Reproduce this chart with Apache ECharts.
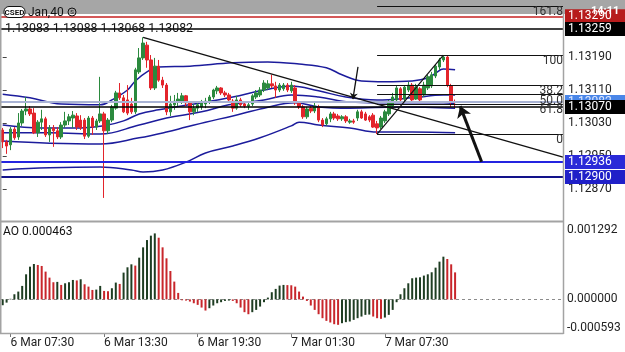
<!DOCTYPE html>
<html><head><meta charset="utf-8">
<script src="https://cdn.jsdelivr.net/npm/echarts@6/dist/echarts.min.js"></script>
<style>html,body{margin:0;padding:0;background:#fff}#c{width:625px;height:352px}</style>
</head><body><div id="c"></div>
<script>
// ---- candle data (EURUSD M15, 6 Mar 07:00 -> 7 Mar 12:00) ----
const opens = [1.13014,1.12985,1.12978,1.13016,1.12997,1.13031,1.13060,1.13065,1.13055,1.13007,
1.13033,1.13041,1.13002,1.13019,1.13012,1.12997,1.13026,1.13036,1.13043,1.13048,
1.13038,1.13038,1.12999,1.13043,1.13021,1.13036,1.13053,1.13012,1.13038,1.13067,
1.13104,1.13092,1.13087,1.13077,1.13058,1.13155,1.13189,1.13220,1.13184,1.13116,
1.13169,1.13135,1.13123,1.13058,1.13075,1.13082,1.13084,1.13097,1.13080,1.13058,
1.13067,1.13070,1.13077,1.13082,1.13094,1.13109,1.13116,1.13104,1.13099,1.13084,
1.13067,1.13087,1.13077,1.13072,1.13077,1.13094,1.13099,1.13111,1.13116,1.13126,
1.13121,1.13111,1.13114,1.13123,1.13109,1.13116,1.13080,1.13070,1.13046,1.13067,
1.13060,1.13070,1.13038,1.13029,1.13041,1.13053,1.13048,1.13041,1.13046,1.13033,
1.13036,1.13043,1.13058,1.13053,1.13046,1.13050,1.13029,1.13021,1.13036,1.13053,
1.13072,1.13087,1.13114,1.13089,1.13111,1.13123,1.13089,1.13114,1.13099,1.13116,
1.13121,1.13145,1.13167,1.13184,1.13191,1.13121,1.13083];
const closes = [1.12985,1.12975,1.13016,1.12995,1.13031,1.13060,1.13065,1.13053,1.13007,1.13033,
1.13041,1.13002,1.13019,1.13012,1.12997,1.13026,1.13036,1.13046,1.13050,1.13021,
1.13019,1.12999,1.13043,1.13021,1.13036,1.13053,1.13012,1.13038,1.13070,1.13104,
1.13092,1.13058,1.13055,1.13058,1.13160,1.13189,1.13225,1.13184,1.13116,1.13169,
1.13135,1.13123,1.13058,1.13077,1.13084,1.13089,1.13097,1.13080,1.13058,1.13067,
1.13075,1.13080,1.13084,1.13094,1.13111,1.13116,1.13104,1.13099,1.13087,1.13067,
1.13087,1.13075,1.13072,1.13075,1.13097,1.13104,1.13111,1.13128,1.13126,1.13121,
1.13111,1.13123,1.13123,1.13111,1.13123,1.13080,1.13070,1.13046,1.13065,1.13060,
1.13072,1.13038,1.13026,1.13041,1.13053,1.13043,1.13041,1.13046,1.13036,1.13036,
1.13033,1.13058,1.13043,1.13038,1.13038,1.13021,1.13019,1.13043,1.13058,1.13082,
1.13094,1.13116,1.13087,1.13118,1.13123,1.13087,1.13118,1.13087,1.13123,1.13143,
1.13148,1.13169,1.13184,1.13191,1.13123,1.13084,1.13082];
const highs = [1.13019,1.12990,1.13021,1.13021,1.13055,1.13065,1.13094,1.13072,1.13067,1.13038,
1.13063,1.13046,1.13026,1.13026,1.13021,1.13033,1.13058,1.13053,1.13060,1.13055,
1.13050,1.13043,1.13048,1.13048,1.13041,1.13143,1.13058,1.13043,1.13075,1.13109,
1.13128,1.13099,1.13123,1.13092,1.13165,1.13213,1.13239,1.13228,1.13196,1.13189,
1.13184,1.13143,1.13128,1.13097,1.13099,1.13104,1.13104,1.13099,1.13084,1.13077,
1.13080,1.13087,1.13092,1.13099,1.13114,1.13121,1.13118,1.13109,1.13104,1.13089,
1.13097,1.13092,1.13082,1.13082,1.13101,1.13111,1.13118,1.13135,1.13135,1.13148,
1.13131,1.13128,1.13128,1.13128,1.13131,1.13123,1.13084,1.13075,1.13070,1.13072,
1.13080,1.13075,1.13043,1.13046,1.13058,1.13058,1.13053,1.13050,1.13050,1.13041,
1.13041,1.13063,1.13063,1.13058,1.13050,1.13055,1.13036,1.13048,1.13063,1.13087,
1.13104,1.13123,1.13118,1.13123,1.13131,1.13128,1.13126,1.13118,1.13131,1.13148,
1.13155,1.13174,1.13189,1.13195,1.13194,1.13126,1.13088];
const lows = [1.12970,1.12956,1.12965,1.12990,1.12990,1.13024,1.13050,1.13048,1.13004,1.12997,
1.13014,1.12997,1.12985,1.12973,1.12992,1.12992,1.13019,1.13026,1.13019,1.13014,
1.13014,1.12992,1.12995,1.13002,1.13014,1.13031,1.12849,1.13004,1.13033,1.13063,
1.13087,1.13055,1.13050,1.13053,1.13053,1.13150,1.13184,1.13165,1.13111,1.13111,
1.13131,1.13116,1.13050,1.13048,1.13063,1.13072,1.13077,1.13072,1.13038,1.13050,
1.13058,1.13063,1.13067,1.13077,1.13089,1.13101,1.13099,1.13094,1.13082,1.13058,
1.13063,1.13070,1.13067,1.13063,1.13072,1.13089,1.13094,1.13106,1.13111,1.13116,
1.13092,1.13106,1.13109,1.13106,1.13104,1.13075,1.13065,1.13041,1.13041,1.13055,
1.13055,1.13033,1.13021,1.13024,1.13033,1.13038,1.13036,1.13036,1.13031,1.13029,
1.13029,1.13036,1.13041,1.13036,1.13033,1.13019,1.13004,1.13016,1.13031,1.13048,
1.13067,1.13082,1.13082,1.13084,1.13106,1.13084,1.13087,1.13082,1.13094,1.13111,
1.13116,1.13140,1.13160,1.13179,1.13118,1.13070,1.13068];

// ---- Awesome Oscillator ----
const aoValues = [-0.000100,-0.000055,0.000010,0.000088,0.000134,0.000231,0.000430,0.000561,0.000607,0.000590,
0.000573,0.000476,0.000373,0.000294,0.000300,0.000248,0.000276,0.000294,0.000333,0.000325,
0.000345,0.000259,0.000219,0.000162,0.000168,0.000231,0.000145,0.000140,0.000191,0.000288,
0.000265,0.000459,0.000550,0.000601,0.000579,0.000715,0.000892,0.001017,0.001092,0.001131,
0.001057,0.000892,0.000704,0.000487,0.000305,0.000111,-0.000015,-0.000020,-0.000037,-0.000066,
-0.000094,-0.000140,-0.000191,-0.000151,-0.000105,-0.000066,-0.000048,-0.000026,-0.000020,-0.000026,
-0.000066,-0.000140,-0.000219,-0.000254,-0.000219,-0.000180,-0.000123,-0.000048,0.000031,0.000123,
0.000180,0.000237,0.000248,0.000245,0.000242,0.000219,0.000134,0.000048,-0.000026,-0.000105,
-0.000180,-0.000254,-0.000322,-0.000368,-0.000396,-0.000425,-0.000436,-0.000408,-0.000390,-0.000379,
-0.000351,-0.000322,-0.000294,-0.000265,-0.000260,-0.000294,-0.000322,-0.000333,-0.000311,-0.000265,
-0.000180,-0.000048,0.000088,0.000191,0.000276,0.000362,0.000373,0.000379,0.000408,0.000430,
0.000465,0.000544,0.000647,0.000732,0.000692,0.000601,0.000463];

// ---- band lines [candle index, price] ----
const bandUpper = [[0,1.13101],[7,1.13092],[15,1.13077],[25,1.13075],[28,1.13087],[32,1.13111],[34,1.13133],[37,1.13155],[40,1.13167],[48,1.13169],[59,1.13177],[68,1.13179],[76,1.13174],[83,1.13165],[87,1.13148],[92,1.13133],[98,1.13131],[105,1.13133],[109,1.13140],[111,1.13152],[113,1.13162],[116,1.13160]];
const bandMidUpper = [[0,1.13026],[10,1.13019],[20,1.13019],[26,1.13024],[31,1.13036],[35,1.13053],[40,1.13063],[51,1.13080],[59,1.13094],[67,1.13111],[74,1.13121],[81,1.13109],[88,1.13094],[96,1.13087],[105,1.13092],[113,1.13099],[116,1.13099]];
const bandMid = [[0,1.13007],[12,1.13007],[25,1.13004],[35,1.13026],[42,1.13043],[51,1.13058],[58,1.13075],[67,1.13087],[74,1.13099],[81,1.13094],[89,1.13082],[96,1.13080],[113,1.13080],[116,1.13077]];
const bandMidLower = [[0,1.12987],[12,1.12982],[25,1.12980],[35,1.12995],[42,1.13009],[47,1.13021],[52,1.13033],[59,1.13048],[67,1.13067],[75,1.13080],[81,1.13070],[89,1.13067],[102,1.13070],[116,1.13067]];
const bandLower = [[0,1.12917],[12,1.12922],[25,1.12924],[33,1.12917],[36,1.12912],[41,1.12917],[47,1.12936],[52,1.12958],[59,1.12975],[66,1.12995],[74,1.13024],[76,1.13033],[81,1.13026],[89,1.13019],[96,1.13009],[105,1.13009],[116,1.13007]];

// ---- price levels / annotations ----
const hLevels = [1.13290, 1.13259, 1.13082, 1.13070, 1.12936, 1.12900];
const fibNames = ['161.8','100','38.2','50.0','61.8','0'];
const fibPrices = [1.13315, 1.13196, 1.13123, 1.13100, 1.13077, 1.13004];
const fibStartIdx = 96, fibHighIdx = 113;
const trendLine = [[36, 1.13239], [143.67, 1.12948]];
const thinArrow = [[91.1, 1.13167], [89.8, 1.13089]];
const thickArrow = [[122.8, 1.12937], [117.3, 1.13072]];
const priceTicks = [1.12870, 1.12950, 1.13030, 1.13110, 1.13190];
const aoTicks = [-0.000593, 0, 0.001292];
const timeTickIdx = [2, 26, 50, 74, 98];
const timeTickLabels = ['6 Mar 07:30','6 Mar 13:30','6 Mar 19:30','7 Mar 01:30','7 Mar 07:30'];
const ohlcText = '1.13083 1.13088 1.13068 1.13082';
const aoText = 'AO 0.000463';

const X_MIN = -0.69, X_MAX = 143.67;
const Y_MIN = 1.127954, Y_MAX = 1.133296;
const UP = '#2b8a3e', DOWN = '#e3242b';
const FONT = 'Roboto, sans-serif';
const BAND = '#1c1c9c';

const chart = echarts.init(document.getElementById('c'), null, {renderer:'canvas'});

function boxLabel(txt, bg, fg) {
  return {show:true, position:'end', formatter:txt, backgroundColor:bg, color:fg||'#fff',
    fontSize:12, fontFamily:FONT, padding:[1,14,1,3], distance:2};
}
const hStyles = [
  {ls:{color:'#c62020', width:1.5}, lab:boxLabel('1.13290','#b71c1c')},
  {ls:{color:'#000', width:1.5}, lab:boxLabel('1.13259','#000')},
  {ls:{color:'#a9b3d4', width:2}, lab:boxLabel('1.13082','#4a86e8','#dde8ff')},
  {ls:{color:'#000', width:1.5}, lab:boxLabel('1.13070','#000')},
  {ls:{color:'#2424e0', width:2}, lab:boxLabel('1.12936','#2a2ad8')},
  {ls:{color:'#12128a', width:2}, lab:boxLabel('1.12900','#2020c8')}
];

const bandSeries = [bandUpper, bandMidUpper, bandMid, bandMidLower, bandLower].map(d => ({
  type:'line', xAxisIndex:0, yAxisIndex:0, data:d, smooth:0.4, showSymbol:false, silent:true,
  lineStyle:{color:BAND, width:1.5}, z:3
}));

const option = {
  animation:false,
  backgroundColor:'#fff',
  grid:[{left:0, top:0, width:563, height:220}, {left:0, top:224, width:563, height:110}],
  xAxis:[
    {type:'value', gridIndex:0, min:X_MIN, max:X_MAX, show:false},
    {type:'value', gridIndex:1, min:X_MIN, max:X_MAX,
     axisLine:{show:false, onZero:false}, splitLine:{show:false},
     axisTick:{show:true, customValues:timeTickIdx, length:3, lineStyle:{color:'#777'}},
     axisLabel:{customValues:timeTickIdx, align:'left', fontSize:12, fontFamily:FONT, color:'#222', margin:3,
       formatter:v => { const k = timeTickIdx.indexOf(Math.round(v)); return k >= 0 ? timeTickLabels[k] : ''; }}}
  ],
  yAxis:[
    {type:'value', gridIndex:0, position:'right', min:Y_MIN, max:Y_MAX, splitLine:{show:false}, axisLine:{show:false},
     axisTick:{show:true, customValues:priceTicks, length:4, lineStyle:{color:'#444'}},
     axisLabel:{customValues:priceTicks, formatter:v => v.toFixed(5), fontSize:12, fontFamily:FONT, color:'#222', margin:5}},
    {type:'value', gridIndex:1, position:'right', min:-0.000593, max:0.001292, splitLine:{show:false}, axisLine:{show:false},
     axisTick:{show:false},
     axisLabel:{customValues:aoTicks, fontSize:12, fontFamily:FONT, color:'#222', margin:4,
       formatter:v => v > 0.001 ? '{t|' + v.toFixed(6) + '}' : (v < 0 ? '{b|' + v.toFixed(6) + '}' : '0.000000'),
       rich:{t:{padding:[12,0,0,0], fontSize:12, fontFamily:FONT, color:'#222'}, b:{padding:[0,0,12,0], fontSize:12, fontFamily:FONT, color:'#222'}}}}
  ],
  graphic:[
    {type:'rect', shape:{x:0, y:0, width:625, height:14}, style:{fill:'#a6a6a6'}, z:0, silent:true},
    {type:'line', shape:{x1:563.5, y1:14, x2:563.5, y2:334}, style:{stroke:'#a3a3a3', lineWidth:1.5}, z:50},
    {type:'line', shape:{x1:0.75, y1:14, x2:0.75, y2:334}, style:{stroke:'#a3a3a3', lineWidth:1.5}, z:50},
    {type:'line', shape:{x1:0, y1:221.5, x2:563.5, y2:221.5}, style:{stroke:'#a3a3a3', lineWidth:2}, z:50},
    {type:'line', shape:{x1:0, y1:333.5, x2:563.5, y2:333.5}, style:{stroke:'#a3a3a3', lineWidth:1.5}, z:50},
    {type:'rect', shape:{x:4, y:6.5, width:21, height:11, r:5}, style:{fill:'#fff', stroke:'#111', lineWidth:1}, z:60},
    {type:'text', x:14.5, y:12.5, style:{text:'CSED', fontSize:8, fontWeight:'bold', fontFamily:FONT, fill:'#111', align:'center', verticalAlign:'middle'}, z:61},
    {type:'text', x:28, y:12.5, style:{text:'Jan,40', fontSize:12, fontFamily:FONT, fill:'#111', verticalAlign:'middle'}, z:61},
    {type:'circle', shape:{cx:72, cy:12, r:4}, style:{fill:'none', stroke:'#111', lineWidth:1}, z:61},
    {type:'text', x:72, y:12.2, style:{text:'S', fontSize:6, fontFamily:FONT, fill:'#111', align:'center', verticalAlign:'middle'}, z:62},
    {type:'text', x:591, y:11, style:{text:'14:11', fontSize:11, fontWeight:'bold', fontFamily:FONT, fill:'#fff', verticalAlign:'middle'}, z:200},
    {type:'text', x:5, y:28.5, style:{text:ohlcText, fontSize:12.3, fontFamily:FONT, fill:'#111', verticalAlign:'middle'}, z:60},
    {type:'text', x:3, y:232, style:{text:aoText, fontSize:12, fontFamily:FONT, fill:'#111', verticalAlign:'middle'}, z:60}
  ],
  series:[
    ...bandSeries,
    {type:'candlestick', xAxisIndex:0, yAxisIndex:0, z:4,
     data:opens.map((o,i) => [i, o, closes[i], lows[i], highs[i]]),
     encode:{x:0, y:[1,2,3,4]}, barWidth:3,
     itemStyle:{color:UP, color0:DOWN, borderColor:UP, borderColor0:DOWN, borderWidth:1}},
    {type:'line', xAxisIndex:0, yAxisIndex:0, data:[], z:5, silent:true,
     markLine:{silent:true, symbol:['none','none'], animation:false, precision:6,
       data: hLevels.map((p,k) => [
         {coord:[X_MIN, p], lineStyle:Object.assign({type:'solid'}, hStyles[k].ls), label:hStyles[k].lab},
         {coord:[X_MAX, p]}])}},
    {type:'line', xAxisIndex:0, yAxisIndex:0, data:[], z:5, silent:true,
     markLine:{silent:true, symbol:['none','none'], animation:false, precision:6,
       lineStyle:{color:'#111', width:1.2, type:'solid'},
       label:{show:true, position:'insideEndBottom', formatter:'{b}', color:'#333', fontSize:12, fontFamily:FONT, distance:0},
       data: fibPrices.map((p,k) => [{name:fibNames[k], coord:[fibStartIdx, p]}, {coord:[X_MAX, p]}]).concat([
         [{name:'', coord:[fibStartIdx, fibPrices[5]], label:{show:false}}, {coord:[fibHighIdx, fibPrices[1]]}],
         [{name:'', coord:trendLine[0], label:{show:false}, lineStyle:{width:1.4}}, {coord:trendLine[1]}]
       ])}},
    {type:'line', xAxisIndex:0, yAxisIndex:0, data:[], z:6, silent:true,
     markLine:{silent:true, animation:false, precision:6, label:{show:false},
       data:[
         [{coord:thinArrow[0], symbol:'none', lineStyle:{color:'#111', width:1.3, type:'solid'}}, {coord:thinArrow[1], symbol:'arrow', symbolSize:6}],
         [{coord:thickArrow[0], symbol:'none', lineStyle:{color:'#111', width:3, type:'solid'}}, {coord:thickArrow[1], symbol:'arrow', symbolSize:11}]
       ]}},
    {type:'bar', xAxisIndex:1, yAxisIndex:1, z:3, barWidth:2, silent:true,
     data:aoValues.map((v,i) => [i, v]),
     itemStyle:{color: p => (p.dataIndex === 0 || aoValues[p.dataIndex] >= aoValues[p.dataIndex-1]) ? '#1e3d22' : '#c8262b'}}
  ]
};
chart.setOption(option);

// zero reference line of the oscillator pane, placed through the pane's own scales
const zeroY = Math.round(chart.convertToPixel({yAxisIndex:1}, 0)) + 0.5;
const leftX = chart.convertToPixel({xAxisIndex:1}, X_MIN);
const rightX = chart.convertToPixel({xAxisIndex:1}, X_MAX);
chart.setOption({graphic:[{id:'aoZero', type:'line', z:1, silent:true,
  shape:{x1:leftX, y1:zeroY, x2:rightX, y2:zeroY},
  style:{stroke:'#8c8c8c', lineWidth:1, lineDash:[3,3]}}]});
</script></body></html>
